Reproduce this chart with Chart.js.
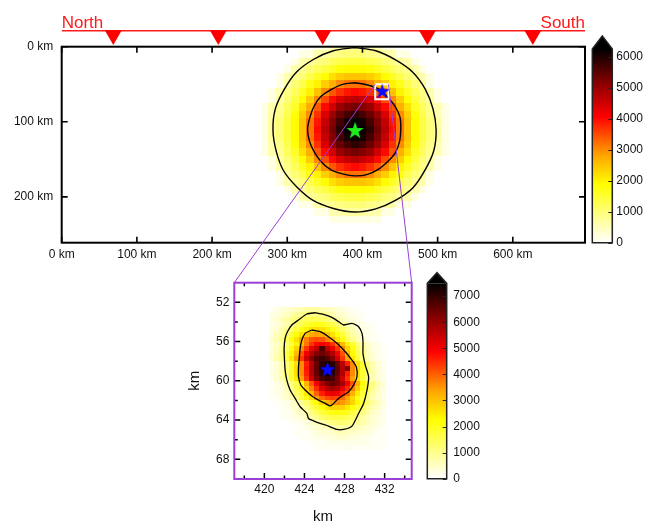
<!DOCTYPE html>
<html><head><meta charset="utf-8">
<script src="https://cdn.jsdelivr.net/npm/chart.js@4.4.1/dist/chart.umd.min.js"></script>
<style>
html,body{margin:0;padding:0;background:#fff;}
#wrap{position:relative;width:651px;height:523px;overflow:hidden;background:#fff;}
#wrap canvas{position:absolute;left:0;top:0;}
</style></head><body>
<div id="wrap">
<canvas id="cMain" width="651" height="523"></canvas>
<canvas id="cTop" width="651" height="523"></canvas>
<canvas id="cBar1" width="651" height="523"></canvas>
<canvas id="cZoom" width="651" height="523"></canvas>
<canvas id="cBar2" width="651" height="523"></canvas>
</div>
<script>
// ---------------- DATA ----------------
const sideLabels = ['North', 'South'];
const stationsKm = [68.6, 208.3, 347.2, 486.4, 626.6];
const stationDepthKm = -20;
const profileLineDepthKm = -27;
const sideLabelDepthKm = -32;
const mainXRange = [0, 696];
const mainYRange = [0, 261];
const topStripRange = [-62.2, 0];
const mainXTicks = [0, 100, 200, 300, 400, 500, 600];
const mainYTicks = [0, 100, 200];
const mainBarTicks = [0, 1000, 2000, 3000, 4000, 5000, 6000];
const mainBarMax = 6250;
const zoomXRange = [417, 434.7];
const zoomYRange = [50, 70];
const zoomXTicks = [420, 424, 428, 432];
const zoomYTicks = [52, 56, 60, 64, 68];
const zoomXMinor = [418, 422, 426, 430, 434];
const zoomYMinor = [54, 58, 62, 66];
const zoomBarTicks = [0, 1000, 2000, 3000, 4000, 5000, 6000, 7000];
const zoomBarMax = 7490;
const greenStar = [390.2, 111.0];
const blueStar = [426.3, 58.8];

// colormap
const cmapStops = [0, 0.3, 0.45, 0.65, 0.82, 1];
const cmapColors = [[255,255,255],[255,255,0],[255,165,0],[255,0,0],[139,0,0],[0,0,0]];

// main heatmap: 10 km cells, values in hundreds
const mainXKm = [260,270,280,290,300,310,320,330,340,350,360,370,380,390,400,410,420,430,440,450,460,470,480,490,500,510,520];
const mainYKm = [0,10,20,30,40,50,60,70,80,90,100,110,120,130,140,150,160,170,180,190,200,210,220,230,240];
const mainGridHundreds = [
[0,0,0,0,0,0,0,0,2,2,6,6,7,7,7,6,6,2,2,0,0,0,0,0,0,0,0],
[0,0,0,0,0,0,2,2,6,7,8,9,10,10,10,9,8,7,6,2,2,0,0,0,0,0,0],
[0,0,0,0,0,2,6,7,9,10,12,13,14,14,14,13,12,10,9,7,6,2,0,0,0,0,0],
[0,0,0,0,2,6,8,10,12,14,16,18,19,19,19,18,16,14,12,10,8,6,2,0,0,0,0],
[0,0,0,2,6,8,10,13,16,19,22,24,25,25,25,24,22,19,16,13,10,8,6,2,0,0,0],
[0,0,0,2,7,10,13,17,20,24,27,30,32,32,32,30,27,24,20,17,13,10,7,2,0,0,0],
[0,0,2,6,9,12,16,20,25,30,34,37,39,40,39,37,34,30,25,20,16,12,9,6,2,0,0],
[0,0,2,7,10,14,19,24,30,35,40,44,46,47,46,44,40,35,30,24,19,14,10,7,2,0,0],
[0,2,6,8,12,16,22,27,34,40,45,50,52,53,52,50,45,40,34,27,22,16,12,8,6,2,0],
[0,2,6,9,13,18,24,30,37,44,50,54,57,59,57,54,50,44,37,30,24,18,13,9,6,2,0],
[0,2,7,10,14,19,25,32,39,46,52,57,61,62,61,57,52,46,39,32,25,19,14,10,7,2,0],
[0,2,7,10,14,19,25,32,40,47,53,59,62,63,62,59,53,47,40,32,25,19,14,10,7,2,0],
[0,2,7,10,14,19,25,32,39,46,52,57,61,62,61,57,52,46,39,32,25,19,14,10,7,2,0],
[0,2,6,9,13,18,24,30,37,44,50,54,57,59,57,54,50,44,37,30,24,18,13,9,6,2,0],
[0,2,6,8,12,16,22,27,34,40,45,50,52,53,52,50,45,40,34,27,22,16,12,8,6,2,0],
[0,0,2,7,10,14,19,24,30,35,40,44,46,47,46,44,40,35,30,24,19,14,10,7,2,0,0],
[0,0,2,6,9,12,16,20,25,30,34,37,39,40,39,37,34,30,25,20,16,12,9,6,2,0,0],
[0,0,0,2,7,10,13,17,20,24,27,30,32,32,32,30,27,24,20,17,13,10,7,2,0,0,0],
[0,0,0,2,6,8,10,13,16,19,22,24,25,25,25,24,22,19,16,13,10,8,6,2,0,0,0],
[0,0,0,0,2,6,8,10,12,14,16,18,19,19,19,18,16,14,12,10,8,6,2,0,0,0,0],
[0,0,0,0,0,2,6,7,9,10,12,13,14,14,14,13,12,10,9,7,6,2,0,0,0,0,0],
[0,0,0,0,0,0,2,2,6,7,8,9,10,10,10,9,8,7,6,2,2,0,0,0,0,0,0],
[0,0,0,0,0,0,0,0,2,2,6,6,7,7,7,6,6,2,2,0,0,0,0,0,0,0,0],
[0,0,0,0,0,0,0,0,0,0,2,2,2,2,2,2,2,0,0,0,0,0,0,0,0,0,0],
[0,0,0,0,0,0,0,0,0,0,0,0,0,0,0,0,0,0,0,0,0,0,0,0,0,0,0]
];
const mainCellKm = [10, 10];

// main contours (km)
const mainOuterX = [389.5,417.7,443.5,466.6,483.5,493.8,498.0,494.8,483.0,466.9,443.8,417.7,389.5,361.4,335.0,313.1,295.1,285.2,281.0,284.2,296.0,312.4,335.3,361.3,389.5];
const mainOuterY = [1.2,5.4,17.2,33.6,56.5,82.7,110.7,138.9,164.7,188.1,204.7,216.0,220.2,215.5,205.1,187.1,165.2,138.7,110.7,82.5,56.7,33.6,16.7,5.4,1.2];
const mainInnerX = [389.5,405.4,420.8,433.0,443.2,449.9,451.0,449.4,443.6,433.0,420.5,405.7,389.5,373.6,358.3,345.7,336.2,329.6,327.0,330.1,335.8,345.3,358.8,373.5,389.5];
const mainInnerY = [48.0,50.6,55.9,66.5,79.0,93.8,110.0,126.0,141.3,153.5,163.7,170.4,172.0,169.4,164.1,153.8,140.8,126.0,110.0,94.1,79.0,65.8,56.7,50.1,48.0];

// zoom heatmap: 0.5 km cells, values in hundreds
const zoomXKm = [420.75,421.25,421.75,422.25,422.75,423.25,423.75,424.25,424.75,425.25,425.75,426.25,426.75,427.25,427.75,428.25,428.75,429.25,429.75,430.25,430.75,431.25,431.75];
const zoomYKm = [52.75,53.25,53.75,54.25,54.75,55.25,55.75,56.25,56.75,57.25,57.75,58.25,58.75,59.25,59.75,60.25,60.75,61.25,61.75,62.25,62.75,63.25,63.75,64.25,64.75,65.25,65.75,66.25,66.75];
const zoomGridHundreds = [
[1,2,3,4,5,6,7,8,8,8,7,6,5,4,3,2,1,1,0,0,0,0,0],
[2,3,4,5,7,9,10,11,11,11,10,9,7,5,4,3,2,1,1,0,0,0,0],
[3,4,6,8,10,12,14,15,15,15,14,12,10,8,6,4,3,2,1,0,0,0,0],
[2,3,5,7,10,13,16,18,20,21,20,18,16,13,10,7,5,3,2,1,1,0,0],
[3,4,7,10,13,17,21,24,26,27,26,24,21,17,13,10,7,4,3,2,1,0,0],
[3,6,8,12,17,22,26,30,33,34,33,30,26,22,17,12,8,6,3,2,1,1,0],
[4,7,10,15,21,26,32,37,41,42,41,37,32,26,21,15,10,7,4,2,1,1,0],
[3,5,8,12,18,24,31,38,44,48,50,48,44,38,31,24,18,12,8,5,3,2,1],
[3,6,9,14,21,28,36,44,51,56,68,56,51,44,36,28,21,14,9,6,3,2,1],
[4,6,10,16,23,31,41,50,57,62,64,62,57,50,41,31,23,16,10,6,4,2,1],
[4,7,11,17,25,34,44,54,62,67,69,67,62,54,44,34,25,17,11,7,4,2,1],
[2,4,7,12,18,26,36,46,56,65,71,73,71,65,56,46,36,26,18,12,7,4,2],
[2,4,7,12,18,27,36,47,57,66,72,74,72,66,57,62,36,27,18,12,7,4,2],
[2,4,7,12,18,26,36,46,57,65,71,73,71,65,57,46,36,26,18,12,7,4,2],
[2,4,7,11,17,25,34,44,54,63,68,70,68,63,54,44,34,25,17,11,7,4,2],
[1,2,4,7,11,16,23,32,41,50,58,63,65,63,58,50,41,32,23,16,11,7,4],
[1,2,3,6,10,15,21,29,37,45,52,57,59,57,52,45,37,29,21,15,10,6,3],
[1,2,3,5,8,13,18,25,32,40,46,50,51,50,46,40,32,25,18,13,8,5,3],
[1,1,3,4,7,11,16,21,27,34,39,42,43,42,39,34,27,21,16,11,7,4,3],
[0,1,1,2,4,6,9,13,18,23,28,32,35,36,35,32,28,23,18,13,9,6,4],
[0,0,1,2,3,5,7,10,14,18,22,25,28,28,28,25,22,18,14,10,7,5,3],
[0,0,1,1,2,4,5,8,11,14,17,20,21,22,21,20,17,14,11,8,5,4,2],
[0,0,1,1,2,3,4,6,8,10,13,15,16,16,16,15,13,10,8,6,4,3,2],
[0,0,0,0,1,1,2,3,4,6,8,9,11,12,12,12,11,9,8,6,4,3,2],
[0,0,0,0,0,1,1,2,3,4,5,6,7,8,8,8,7,6,5,4,3,2,1],
[0,0,0,0,0,1,1,1,2,3,4,4,5,6,6,6,5,4,4,3,2,1,1],
[0,0,0,0,0,0,1,1,1,2,2,3,3,4,4,4,3,3,2,2,1,1,1],
[0,0,0,0,0,0,0,0,1,1,1,2,2,2,2,2,2,2,2,2,1,1,1],
[0,0,0,0,0,0,0,0,0,1,1,1,1,1,1,2,1,1,1,1,1,1,1]
];
const zoomCellKm = [0.5, 0.5];

// zoom contours (km)
const zoomOuterX = [425.07,425.90,426.74,427.40,427.90,428.74,429.40,429.74,429.84,429.84,430.07,430.40,430.24,429.90,429.40,428.74,427.90,427.24,426.40,425.57,424.90,424.40,424.24,423.57,423.07,422.57,422.24,422.07,422.00,421.97,422.07,422.30,422.74,423.40,424.24,425.07];
const zoomOuterY = [53.06,53.23,53.53,53.97,54.31,54.14,54.48,55.16,56.01,57.20,58.39,59.58,60.94,62.30,63.32,64.61,64.95,64.95,64.61,64.34,64.07,63.83,63.32,62.64,61.79,60.94,59.92,58.90,57.71,56.69,55.67,54.99,54.31,53.80,53.19,53.06];
const zoomInnerX = [424.74,425.57,426.40,427.24,428.07,428.74,429.17,429.24,428.90,428.40,427.90,427.40,427.07,426.74,426.50,426.07,425.40,424.74,424.07,423.64,423.40,423.40,423.47,423.57,423.74,424.07,424.74];
const zoomInnerY = [54.82,54.99,55.50,56.18,57.03,57.88,58.56,59.58,60.43,61.11,61.45,61.79,62.13,62.47,62.54,62.30,61.96,61.55,60.94,60.43,59.58,58.73,57.71,56.69,55.84,55.16,54.82];

// ---------------- HELPERS ----------------
const FONT = "'Liberation Sans', Arial, sans-serif";
const PURPLE = '#9b3fd6';
function rgbStr(c){ return 'rgb(' + c[0] + ',' + c[1] + ',' + c[2] + ')'; }
function cmap(t){
  t = Math.max(0, Math.min(1, t));
  for (let k = 1; k < cmapStops.length; k++) {
    if (t <= cmapStops[k]) {
      const f = (t - cmapStops[k-1]) / (cmapStops[k] - cmapStops[k-1]);
      const a = cmapColors[k-1], b = cmapColors[k];
      return rgbStr([0,1,2].map(i => Math.round(a[i] + (b[i] - a[i]) * f)));
    }
  }
  return rgbStr(cmapColors[cmapColors.length-1]);
}
function pts(xs, ys){ return xs.map((x, i) => ({x: x, y: ys[i]})); }
function makeStar(color, R){
  const c = document.createElement('canvas');
  const s = Math.ceil(R * 2 + 2); c.width = s; c.height = s;
  const g = c.getContext('2d');
  const cy = s / 2 + 0.0955 * R;
  g.beginPath();
  for (let k = 0; k < 10; k++) {
    const r = (k % 2 === 0) ? R : R * 0.4;
    const a = -Math.PI / 2 + k * Math.PI / 5;
    g.lineTo(s / 2 + r * Math.cos(a), cy + r * Math.sin(a));
  }
  g.closePath(); g.fillStyle = color; g.fill();
  return c;
}
function heatmapPlugin(id, xs, ys, grid, cell, vmax){
  return { id, beforeDatasetsDraw(chart){
    const {ctx, chartArea: a, scales: {x, y}} = chart;
    ctx.save();
    ctx.beginPath(); ctx.rect(a.left, a.top, a.right - a.left, a.bottom - a.top); ctx.clip();
    for (let r = 0; r < ys.length; r++) for (let c = 0; c < xs.length; c++) {
      const v = grid[r][c] * 100;
      if (v <= 0) continue;
      const x0 = Math.round(x.getPixelForValue(xs[c] - cell[0] / 2));
      const x1 = Math.round(x.getPixelForValue(xs[c] + cell[0] / 2));
      const y0 = Math.round(y.getPixelForValue(ys[r] - cell[1] / 2));
      const y1 = Math.round(y.getPixelForValue(ys[r] + cell[1] / 2));
      ctx.fillStyle = cmap(v / vmax);
      ctx.fillRect(Math.min(x0, x1), Math.min(y0, y1), Math.abs(x1 - x0), Math.abs(y1 - y0));
    }
    ctx.restore();
  }};
}
function framePlugin(id, o){
  return { id, afterDatasetsDraw(chart){
    const {ctx, chartArea: a, scales: {x, y}} = chart;
    ctx.save();
    ctx.strokeStyle = '#000'; ctx.lineWidth = o.tickWidth;
    ctx.beginPath();
    const xt = (v, len) => { const p = x.getPixelForValue(v); ctx.moveTo(p, a.bottom); ctx.lineTo(p, a.bottom - len); ctx.moveTo(p, a.top); ctx.lineTo(p, a.top + len); };
    const yt = (v, len) => { const p = y.getPixelForValue(v); ctx.moveTo(a.left, p); ctx.lineTo(a.left + len, p); ctx.moveTo(a.right, p); ctx.lineTo(a.right - len, p); };
    x.ticks.forEach(t => xt(t.value, o.majorLen));
    y.ticks.forEach(t => yt(t.value, o.majorLen));
    (o.minorX || []).forEach(v => xt(v, o.minorLen));
    (o.minorY || []).forEach(v => yt(v, o.minorLen));
    ctx.stroke();
    ctx.strokeStyle = o.frameColor; ctx.lineWidth = o.frameWidth;
    ctx.strokeRect(a.left, a.top, a.right - a.left, a.bottom - a.top);
    ctx.restore();
  }};
}
function colorbarPlugin(id, vmax, triH){
  return { id, beforeDatasetsDraw(chart){
    const {ctx, chartArea: a, scales: {y}} = chart;
    const yb = y.getPixelForValue(0), ytp = y.getPixelForValue(vmax);
    const mid = (a.left + a.right) / 2;
    ctx.save();
    const grad = ctx.createLinearGradient(0, yb, 0, ytp);
    cmapStops.forEach((s, k) => grad.addColorStop(s, rgbStr(cmapColors[k])));
    ctx.fillStyle = grad;
    ctx.fillRect(a.left, ytp, a.right - a.left, yb - ytp);
    ctx.beginPath(); ctx.moveTo(a.left, ytp); ctx.lineTo(mid, ytp - triH); ctx.lineTo(a.right, ytp); ctx.closePath();
    ctx.fillStyle = '#000'; ctx.fill();
    ctx.strokeStyle = '#222'; ctx.lineWidth = 1.5; ctx.lineJoin = 'miter';
    ctx.beginPath(); ctx.moveTo(a.left, yb); ctx.lineTo(a.left, ytp); ctx.lineTo(mid, ytp - triH); ctx.lineTo(a.right, ytp); ctx.lineTo(a.right, yb); ctx.closePath(); ctx.stroke();
    ctx.lineWidth = 1; ctx.beginPath();
    y.ticks.forEach(t => { const p = Math.round(y.getPixelForValue(t.value)) + 0.5; ctx.moveTo(a.right, p); ctx.lineTo(a.right - 4, p); });
    ctx.stroke();
    ctx.restore();
  }};
}
function tickSetter(arr){ return s => { s.ticks = arr.map(v => ({value: v})); }; }
const baseOpts = { responsive: false, animation: false, events: [], plugins: { legend: { display: false }, tooltip: { enabled: false } } };
function tickFont(){ return { family: FONT, size: 12 }; }
const plainNum = v => String(v);

// ---------------- MAIN CHART ----------------
const mainChart = new Chart(document.getElementById('cMain'), {
  type: 'scatter',
  data: { datasets: [
    { data: [{x: greenStar[0], y: greenStar[1]}], pointStyle: makeStar('#1eea1e', 9), pointRadius: 9, borderWidth: 0 },
    { data: [{x: blueStar[0], y: blueStar[1]}], pointStyle: makeStar('#0a0aff', 8), pointRadius: 8, borderWidth: 0 },
    { data: pts([zoomXRange[0], zoomXRange[1], zoomXRange[1], zoomXRange[0], zoomXRange[0]], [zoomYRange[0], zoomYRange[0], zoomYRange[1], zoomYRange[1], zoomYRange[0]]), showLine: true, borderColor: '#ffffff', borderWidth: 2, pointRadius: 0 },
    { data: pts(mainInnerX, mainInnerY), showLine: true, borderColor: '#000', borderWidth: 1.4, pointRadius: 0, tension: 0.3 },
    { data: pts(mainOuterX, mainOuterY), showLine: true, borderColor: '#000', borderWidth: 1.4, pointRadius: 0, tension: 0.3 }
  ]},
  options: Object.assign({}, baseOpts, {
    layout: { padding: { left: 0, top: 46.7, right: 66, bottom: 0 } },
    scales: {
      x: { type: 'linear', min: mainXRange[0], max: mainXRange[1], afterBuildTicks: tickSetter(mainXTicks),
           afterFit: s => { s.height = 280.3; },
           grid: { display: false, drawTicks: false }, border: { display: false },
           ticks: { callback: v => v + ' km', font: tickFont(), color: '#111', padding: 4.4, autoSkip: false, maxRotation: 0 } },
      y: { type: 'linear', reverse: true, min: mainYRange[0], max: mainYRange[1], afterBuildTicks: tickSetter(mainYTicks),
           afterFit: s => { s.width = 61.7; },
           grid: { display: false, drawTicks: false }, border: { display: false },
           ticks: { callback: v => v + ' km', font: tickFont(), color: '#111', padding: 8.4, autoSkip: false } }
    }
  }),
  plugins: [
    heatmapPlugin('mainHeat', mainXKm, mainYKm, mainGridHundreds, mainCellKm, mainBarMax),
    framePlugin('mainFrame', { tickWidth: 1.6, majorLen: 6, minorLen: 3, frameColor: '#000', frameWidth: 2 })
  ]
});

// ---------------- TOP STRIP (stations) ----------------
new Chart(document.getElementById('cTop'), {
  type: 'scatter',
  data: { datasets: [
    { data: stationsKm.map(v => ({x: v, y: stationDepthKm})), pointStyle: 'triangle', rotation: 180, pointRadius: 10, backgroundColor: '#ff0000', borderWidth: 0 },
    { data: [{x: mainXRange[0], y: profileLineDepthKm}, {x: mainXRange[1], y: profileLineDepthKm}], showLine: true, borderColor: '#ff1a1a', borderWidth: 1.6, pointRadius: 0 }
  ]},
  options: Object.assign({}, baseOpts, {
    layout: { padding: { left: 61.7, top: 0, right: 66, bottom: 476.3 } },
    scales: {
      x: { type: 'linear', display: false, min: mainXRange[0], max: mainXRange[1] },
      y: { type: 'linear', display: false, reverse: true, min: topStripRange[0], max: topStripRange[1] }
    }
  }),
  plugins: [
    { id: 'nsText', afterDraw(chart){
      const {ctx, scales: {x, y}} = chart;
      ctx.save(); ctx.fillStyle = '#ff1a1a'; ctx.font = '17px ' + FONT; ctx.textBaseline = 'alphabetic';
      ctx.textAlign = 'left'; ctx.fillText(sideLabels[0], x.getPixelForValue(mainXRange[0]), y.getPixelForValue(sideLabelDepthKm));
      ctx.textAlign = 'right'; ctx.fillText(sideLabels[1], x.getPixelForValue(mainXRange[1]), y.getPixelForValue(sideLabelDepthKm));
      ctx.restore();
    }}
  ]
});

// ---------------- MAIN COLORBAR ----------------
new Chart(document.getElementById('cBar1'), {
  type: 'scatter',
  data: { datasets: [] },
  options: Object.assign({}, baseOpts, {
    layout: { padding: { left: 592.3, top: 49, right: 0, bottom: 280.3 } },
    scales: {
      x: { display: false, min: 0, max: 1 },
      y: { type: 'linear', position: 'right', min: 0, max: mainBarMax, afterBuildTicks: tickSetter(mainBarTicks),
           afterFit: s => { s.width = 38.7; },
           grid: { display: false, drawTicks: false }, border: { display: false },
           ticks: { callback: plainNum, font: tickFont(), color: '#111', padding: 4, autoSkip: false } }
    }
  }),
  plugins: [ colorbarPlugin('bar1', mainBarMax, 13) ]
});

// ---------------- ZOOM CHART ----------------
new Chart(document.getElementById('cZoom'), {
  type: 'scatter',
  data: { datasets: [
    { data: [{x: blueStar[0], y: blueStar[1]}], pointStyle: makeStar('#0a0aff', 8.3), pointRadius: 8, borderWidth: 0 },
    { data: pts(zoomInnerX, zoomInnerY), showLine: true, borderColor: '#000', borderWidth: 1.3, pointRadius: 0, tension: 0.2 },
    { data: pts(zoomOuterX, zoomOuterY), showLine: true, borderColor: '#000', borderWidth: 1.3, pointRadius: 0, tension: 0.2 }
  ]},
  options: Object.assign({}, baseOpts, {
    layout: { padding: { left: 0, top: 282.7, right: 239.3, bottom: 0 } },
    scales: {
      x: { type: 'linear', min: zoomXRange[0], max: zoomXRange[1], afterBuildTicks: tickSetter(zoomXTicks),
           afterFit: s => { s.height = 44; },
           grid: { display: false, drawTicks: false }, border: { display: false },
           ticks: { callback: plainNum, font: tickFont(), color: '#111', padding: 3, autoSkip: false, maxRotation: 0 } },
      y: { type: 'linear', reverse: true, min: zoomYRange[0], max: zoomYRange[1], afterBuildTicks: tickSetter(zoomYTicks),
           afterFit: s => { s.width = 234.3; },
           grid: { display: false, drawTicks: false }, border: { display: false },
           ticks: { callback: plainNum, font: tickFont(), color: '#111', padding: 5, autoSkip: false } }
    }
  }),
  plugins: [
    heatmapPlugin('zoomHeat', zoomXKm, zoomYKm, zoomGridHundreds, zoomCellKm, zoomBarMax),
    framePlugin('zoomFrame', { tickWidth: 1.5, majorLen: 6, minorLen: 3.5, minorX: zoomXMinor, minorY: zoomYMinor, frameColor: PURPLE, frameWidth: 2 }),
    { id: 'zoomText', afterDraw(chart){
      const {ctx, chartArea: a} = chart;
      const ax = mainChart.scales.x, ay = mainChart.scales.y;
      ctx.save();
      ctx.strokeStyle = PURPLE; ctx.lineWidth = 1;
      ctx.beginPath();
      ctx.moveTo(ax.getPixelForValue(zoomXRange[0]), ay.getPixelForValue(zoomYRange[0])); ctx.lineTo(a.left, a.top);
      ctx.moveTo(ax.getPixelForValue(zoomXRange[1]), ay.getPixelForValue(zoomYRange[0])); ctx.lineTo(a.right, a.top);
      ctx.stroke();
      ctx.fillStyle = '#111'; ctx.font = '15px ' + FONT; ctx.textAlign = 'center'; ctx.textBaseline = 'middle';
      ctx.fillText('km', (a.left + a.right) / 2, a.bottom + 38);
      ctx.translate(a.left - 39, (a.top + a.bottom) / 2); ctx.rotate(-Math.PI / 2);
      ctx.fillText('km', 0, 0);
      ctx.restore();
    }}
  ]
});

// ---------------- ZOOM COLORBAR ----------------
new Chart(document.getElementById('cBar2'), {
  type: 'scatter',
  data: { datasets: [] },
  options: Object.assign({}, baseOpts, {
    layout: { padding: { left: 427.3, top: 283.3, right: 144.3, bottom: 44.2 } },
    scales: {
      x: { display: false, min: 0, max: 1 },
      y: { type: 'linear', position: 'right', min: 0, max: zoomBarMax, afterBuildTicks: tickSetter(zoomBarTicks),
           afterFit: s => { s.width = 60; },
           grid: { display: false, drawTicks: false }, border: { display: false },
           ticks: { callback: plainNum, font: tickFont(), color: '#111', padding: 6.5, autoSkip: false } }
    }
  }),
  plugins: [ colorbarPlugin('bar2', zoomBarMax, 10.6) ]
});
</script>
</body></html>
